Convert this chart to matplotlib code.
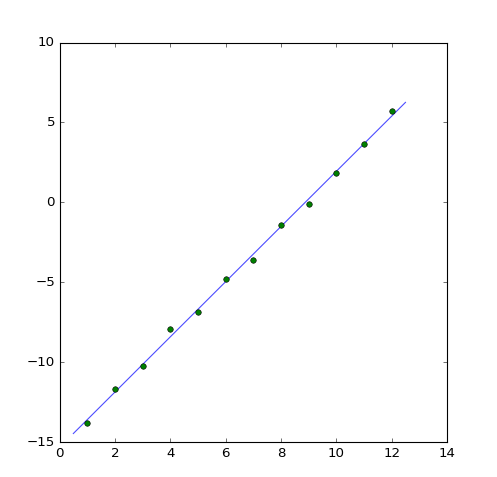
import numpy as np
import matplotlib
matplotlib.use('Agg')
import matplotlib.pyplot as plt

plt.style.use('classic')

x = np.array([1, 2, 3, 4, 5, 6, 7, 8, 9, 10, 11, 12])
y = np.array([-13.78, -11.65, -10.25, -7.94, -6.86, -4.81, -3.59, -1.40, -0.09, 1.85, 3.64, 5.71])

# retta di regressione sui punti
m, q = np.polyfit(x, y, 1)
t = np.linspace(0.5, 12.5, 100)

fig = plt.figure(figsize=(497/80, 477/80), dpi=80)
ax = fig.add_axes([59.5/497, 1 - 442.3/477, 387.5/497, 399.8/477])
ax.plot(t, m*t + q, 'b-', alpha=0.7)
ax.plot(x, y, 'go', markersize=5)
ax.set_xlim(0, 14)
ax.set_ylim(-15, 10)
fig.savefig('out.png', dpi=80)
